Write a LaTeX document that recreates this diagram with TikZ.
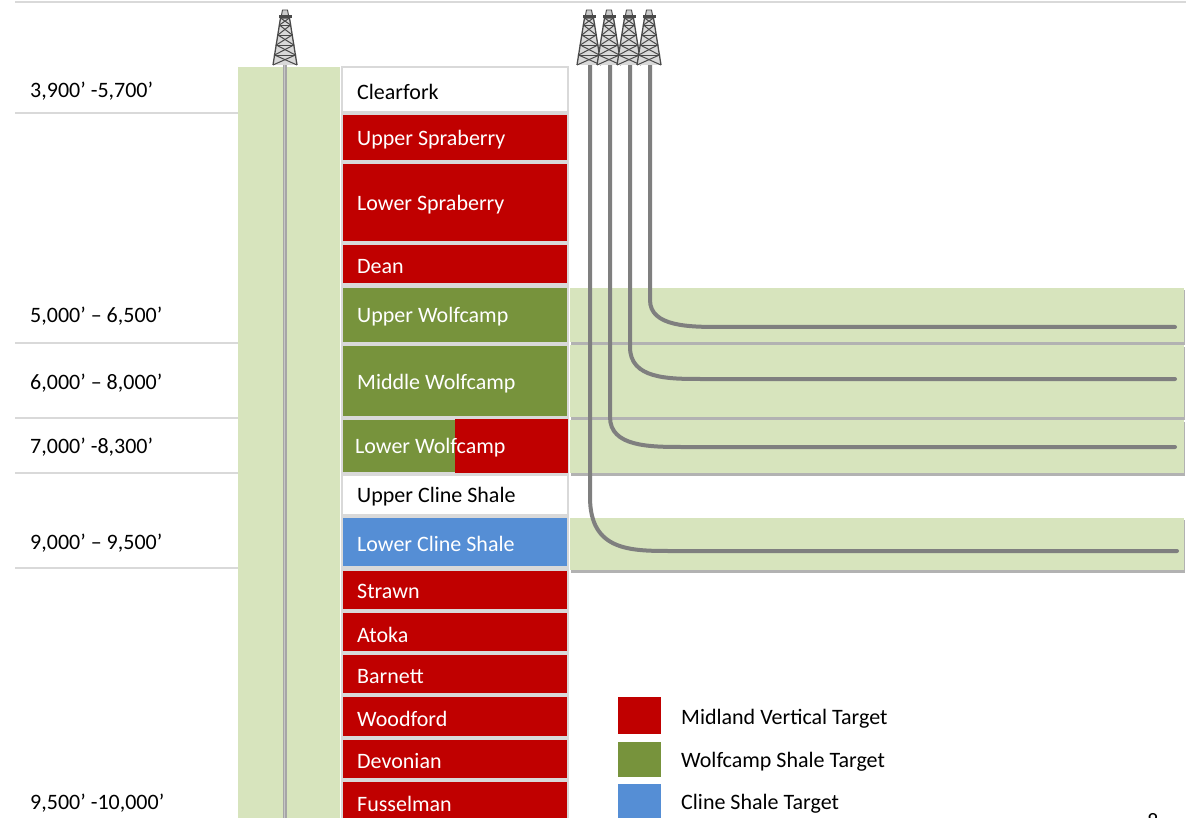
\documentclass[tikz,border=0pt]{standalone}
\usepackage{fontspec}
\setmainfont{Carlito}
\definecolor{tred}{HTML}{C00000}
\definecolor{tgreen}{HTML}{77933C}
\definecolor{tblue}{HTML}{558ED5}
\definecolor{band}{HTML}{D7E4BD}
\definecolor{pipe}{HTML}{7F7F7F}
\definecolor{rule}{HTML}{D9D9D9}
\definecolor{dk}{HTML}{4A4A4A}
\tikzset{
  txt/.style={font=\fontsize{22}{26}\selectfont, inner sep=0pt, anchor=west, yshift=-1.5pt},
  wtxt/.style={txt, text=white},
  btxt/.style={txt, text=black},
  stratum/.style={draw=rule, line width=1.2pt},
  bandbox/.style={fill=band},
  bandshadow/.style={fill=black!30},
  rulerline/.style={draw=rule, line width=2pt},
  wellpipe/.style={draw=pipe, line width=4pt, line cap=round},
  derrick/.pic={
    \fill[gray!30] (-12,0) -- (-4.5,-47) -- (4.5,-47) -- (12,0) -- cycle;
    \draw[dk, line width=1.3pt] (-12,0) -- (-4.5,-47) -- (4.5,-47) -- (12,0);
    \draw[dk, line width=1pt] (-12,0) -- (10.4,-10) -- (-8.8,-20) -- (7.2,-30) -- (-5.6,-40) -- (4.5,-47);
    \draw[dk, line width=1pt] (12,0) -- (-10.4,-10) -- (8.8,-20) -- (-7.2,-30) -- (5.6,-40) -- (-4.5,-47);
    \draw[dk, line width=0.9pt] (-10.4,-10) -- (10.4,-10) (-8.8,-20) -- (8.8,-20) (-7.2,-30) -- (7.2,-30) (-5.6,-40) -- (5.6,-40);
    \fill[dk] (-6.5,-47) rectangle (6.5,-50);
    \filldraw[dk, fill=gray!40, line width=0.9pt] (-3.5,-50) -- (-2.5,-55) -- (2.5,-55) -- (3.5,-50);
  }
}
\begin{document}
\begin{tikzpicture}[x=1pt,y=-1pt]
\useasboundingbox (0,0) rectangle (1186,818);
\clip (0,0) rectangle (1186,818);
\fill[white] (0,0) rectangle (1186,818);

% top rule and depth rules
\draw[rulerline] (15,2) -- (1186,2);
\draw[rulerline] (15,113) -- (238,113);
\draw[rulerline] (15,343) -- (238,343);
\draw[rulerline] (15,418) -- (238,418);
\draw[rulerline] (15,473) -- (238,473);
\draw[rulerline] (15,568) -- (238,568);

% depth labels
\node[btxt] (d1) at (30,90) {3,900’ -5,700’};
\node[btxt] (d2) at (30,315) {5,000’ – 6,500’};
\node[btxt] (d3) at (30,382) {6,000’ – 8,000’};
\node[btxt] (d4) at (30,446) {7,000’ -8,300’};
\node[btxt] (d5) at (30,542) {9,000’ – 9,500’};
\node[btxt] (d6) at (30,802) {9,500’ -10,000’};

% vertical well column
\fill[band] (238,67) rectangle (340,830);

% strata column
\fill[rule] (341,66) rectangle (569,830);
\filldraw[stratum, fill=white] (342,67) rectangle (568,112);
\filldraw[stratum, fill=tred] (342,114) rectangle (568,161);
\filldraw[stratum, fill=tred] (342,163) rectangle (568,242);
\filldraw[stratum, fill=tred] (342,244) rectangle (568,284);
\filldraw[stratum, fill=tgreen] (342,287) rectangle (568,343);
\filldraw[stratum, fill=tgreen] (342,345) rectangle (568,417);
\filldraw[stratum, fill=tgreen] (342,419) rectangle (568,473);
\fill[tred] (455,419) rectangle (568,473);
\filldraw[stratum, fill=white] (342,475) rectangle (568,515);
\filldraw[stratum, fill=tblue] (342,517) rectangle (568,567);
\filldraw[stratum, fill=tred] (342,570) rectangle (568,610);
\filldraw[stratum, fill=tred] (342,612) rectangle (568,652);
\filldraw[stratum, fill=tred] (342,654) rectangle (568,694);
\filldraw[stratum, fill=tred] (342,696) rectangle (568,737);
\filldraw[stratum, fill=tred] (342,739) rectangle (568,779);
\filldraw[stratum, fill=tred] (342,781) rectangle (568,840);

% strata labels
\node[btxt] (clearfork) at (357,90) {Clearfork};
\node[wtxt] (uspra) at (357,138) {Upper Spraberry};
\node[wtxt] (lspra) at (357,203) {Lower Spraberry};
\node[wtxt] (dean) at (357,265) {Dean};
\node[wtxt] (uwolf) at (357,315) {Upper Wolfcamp};
\node[wtxt] (mwolf) at (357,382) {Middle Wolfcamp};
\node[wtxt] (lwolf) at (355,446) {Lower Wolfcamp};
\node[btxt] (ucline) at (357,495) {Upper Cline Shale};
\node[wtxt] (lcline) at (357,542) {Lower Cline Shale};
\node[wtxt] (strawn) at (357,590) {Strawn};
\node[wtxt] (atoka) at (357,633) {Atoka};
\node[wtxt] (barnett) at (357,675) {Barnett};
\node[wtxt] (woodford) at (357,717) {Woodford};
\node[wtxt] (devonian) at (357,760) {Devonian};
\node[wtxt] (fusselman) at (357,802) {Fusselman};

% lateral target bands
\fill[bandshadow] (571,290) rectangle (1185,345);
\fill[bandshadow] (571,347) rectangle (1185,420);
\fill[bandshadow] (571,422) rectangle (1185,476);
\fill[bandshadow] (571,520) rectangle (1185,573);
\fill[bandbox] (570,288) rectangle (1184,342);
\fill[bandbox] (570,345) rectangle (1184,417);
\fill[bandbox] (570,420) rectangle (1184,473);
\fill[bandbox] (570,518) rectangle (1184,570);

% well coordinates
\coordinate (v0top) at (285,64);
\coordinate (v0bot) at (285,830);
\coordinate (h1top) at (650,64);
\coordinate (h2top) at (630,64);
\coordinate (h3top) at (610,64);
\coordinate (h4top) at (590,64);
\coordinate (h1end) at (1175,327);
\coordinate (h2end) at (1175,379);
\coordinate (h3end) at (1175,447);
\coordinate (h4end) at (1177,551);

% wells
\draw[draw=gray!70, line width=4pt] (v0top) -- (v0bot);
\draw[draw=gray!45, line width=1.2pt] ([xshift=-0.8pt]v0top) -- ([xshift=-0.8pt]v0bot);
\draw[wellpipe] (h1top) -- (650,300) .. controls (650,327) and (690,327) .. (722,327) -- (h1end);
\draw[wellpipe] (h2top) -- (630,347) .. controls (630,379) and (668,379) .. (702,379) -- (h2end);
\draw[wellpipe] (h3top) -- (610,417) .. controls (610,447) and (650,447) .. (684,447) -- (h3end);
\draw[wellpipe] (h4top) -- (590,497) .. controls (590,551) and (630,551) .. (672,551) -- (h4end);

% derricks
\pic at (285,65) {derrick};
\pic at (589,65) {derrick};
\pic at (609,65) {derrick};
\pic at (629,65) {derrick};
\pic at (649,65) {derrick};

% legend
\fill[tred] (618,697) rectangle (661,734);
\fill[tgreen] (618,742) rectangle (661,777);
\fill[tblue] (618,784) rectangle (661,830);
\node[btxt] (leg1) at (681,717) {Midland Vertical Target};
\node[btxt] (leg2) at (681,760) {Wolfcamp Shale Target};
\node[btxt] (leg3) at (681,802) {Cline Shale Target};

% page number (cut off at the lower edge, as in the reference)
\node[font=\fontsize{22}{26}\selectfont, inner sep=0pt, anchor=base] (pg) at (1153,828) {8};
\end{tikzpicture}
\end{document}
